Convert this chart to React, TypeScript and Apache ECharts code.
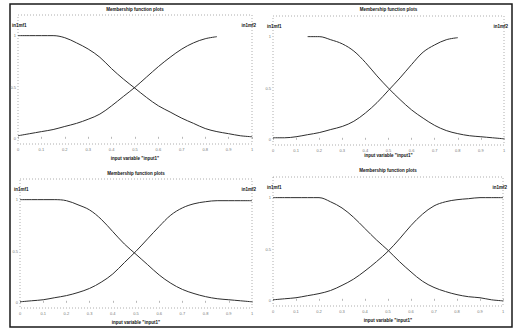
import React, { useEffect, useRef } from "react";
import * as echarts from "echarts";

// ---- data ----
const xs = [0, 0.05, 0.1, 0.15, 0.2, 0.25, 0.3, 0.35, 0.4, 0.45, 0.5, 0.55, 0.6, 0.65, 0.7, 0.75, 0.8, 0.85, 0.9, 0.95, 1];
const xTicks = ["0", "0.1", "0.2", "0.3", "0.4", "0.5", "0.6", "0.7", "0.8", "0.9", "1"];
const yTicks = ["0", "0.5", "1"];

const panelTitles = ["Membership function plots", "Membership function plots", "Membership function plots", "Membership function plots"];
const xLabels = ['input variable "input1"', 'input variable "input1"', 'input variable "input1"', 'input variable "input1"'];
const mf1Names = ["in1mf1", "in1mf1", "in1mf1", "in1mf1"];
const mf2Names = ["in1mf2", "in1mf2", "in1mf2", "in1mf2"];

// top-left
const tlMf1 = [1, 1, 1, 1, 0.98, 0.93, 0.87, 0.79, 0.68, 0.58, 0.49, 0.4, 0.32, 0.26, 0.2, 0.15, 0.1, 0.07, 0.05, 0.03, 0.02];
const tlMf2 = [0.03, 0.05, 0.07, 0.09, 0.12, 0.15, 0.19, 0.24, 0.32, 0.41, 0.5, 0.6, 0.7, 0.79, 0.87, 0.93, 0.97, 0.99];
// top-right
const trMf1 = [null, null, null, 1, 1, 0.97, 0.93, 0.86, 0.75, 0.62, 0.5, 0.39, 0.29, 0.21, 0.14, 0.09, 0.06, 0.04, 0.03, 0.02, 0.01];
const trMf2 = [0.02, 0.02, 0.03, 0.05, 0.07, 0.1, 0.13, 0.18, 0.26, 0.36, 0.48, 0.6, 0.73, 0.85, 0.92, 0.97, 0.99];
// bottom-left
const blMf1 = [1, 1, 1, 1, 0.99, 0.95, 0.9, 0.81, 0.69, 0.57, 0.47, 0.37, 0.27, 0.19, 0.13, 0.09, 0.06, 0.04, 0.03, 0.02, 0.01];
const blMf2 = [0.01, 0.02, 0.03, 0.05, 0.07, 0.1, 0.14, 0.2, 0.28, 0.39, 0.5, 0.62, 0.74, 0.85, 0.92, 0.96, 0.98, 0.99, 0.99, 0.99, 0.99];
// bottom-right
const brMf1 = [1, 1, 1, 1, 1, 0.96, 0.9, 0.81, 0.7, 0.59, 0.49, 0.38, 0.28, 0.19, 0.13, 0.09, 0.06, 0.04, 0.03, 0.01, 0];
const brMf2 = [0.01, 0.02, 0.03, 0.05, 0.07, 0.1, 0.15, 0.21, 0.29, 0.38, 0.48, 0.6, 0.73, 0.84, 0.92, 0.96, 0.98, 0.99, 1, 1, 1];

const mf1s = [tlMf1, trMf1, blMf1, brMf1];
const mf2s = [tlMf2, trMf2, blMf2, brMf2];

// layout
const grids = [
  { left: 18, top: 15, width: 234, height: 129 },
  { left: 273, top: 16, width: 231, height: 129 },
  { left: 20, top: 179, width: 232, height: 129 },
  { left: 273, top: 177, width: 230, height: 129 },
];
const titleY = [9, 9, 173, 170];
const xLabelY = [158, 155, 322, 320];

const FONT = "Liberation Sans, Arial, sans-serif";
const LINE = "#2e2e2e";

export default function App() {
  const ref = useRef<HTMLDivElement>(null);
  useEffect(() => {
    if (!ref.current) return;
    const chart = echarts.init(ref.current, null, { renderer: "svg" });
    const pair = (vals: (number | null)[]) =>
      vals.map((v, i) => [xs[i], v]).filter((p) => p[1] !== null);

    const series: any[] = [];
    const graphic: any[] = [];
    grids.forEach((g, i) => {
      series.push({
        type: "line",
        xAxisIndex: i,
        yAxisIndex: i,
        data: pair(mf1s[i]),
        smooth: 0.35,
        showSymbol: false,
        lineStyle: { color: LINE, width: 1 },
      });
      series.push({
        type: "line",
        xAxisIndex: i,
        yAxisIndex: i,
        data: pair(mf2s[i]),
        smooth: 0.35,
        showSymbol: false,
        lineStyle: { color: LINE, width: 1 },
      });
      // dotted axes box
      graphic.push({
        type: "rect",
        shape: { x: g.left, y: g.top, width: g.width, height: g.height },
        style: { fill: "none", stroke: "#9a9a9a", lineWidth: 0.8, lineDash: [1, 2] },
        silent: true,
      });
      graphic.push({
        type: "text",
        x: g.left + g.width / 2,
        y: titleY[i],
        style: { text: panelTitles[i], font: `bold 4.5px ${FONT}`, fill: "#111", align: "center", verticalAlign: "middle" },
      });
      graphic.push({
        type: "text",
        x: g.left + g.width / 2,
        y: xLabelY[i],
        style: { text: xLabels[i], font: `bold 4.5px ${FONT}`, fill: "#111", align: "center", verticalAlign: "middle" },
      });
      graphic.push({
        type: "text",
        x: g.left - 6,
        y: g.top + 10,
        style: { text: mf1Names[i], font: `bold 4.5px ${FONT}`, fill: "#111", align: "left", verticalAlign: "middle" },
      });
      graphic.push({
        type: "text",
        x: g.left + g.width + 4,
        y: g.top + 10,
        style: { text: mf2Names[i], font: `bold 4.5px ${FONT}`, fill: "#111", align: "right", verticalAlign: "middle" },
      });
    });
    // outer frame
    graphic.push({
      type: "rect",
      shape: { x: 10, y: 4, width: 502, height: 323 },
      style: { fill: "none", stroke: "#1a1a1a", lineWidth: 1.5 },
      silent: true,
    });

    const option: any = {
      animation: false,
      backgroundColor: "#ffffff",
      grid: grids.map((g) => ({ ...g, containLabel: false })),
      xAxis: grids.map((_, i) => ({
        type: "value",
        gridIndex: i,
        min: 0,
        max: 1,
        interval: 0.1,
        axisLine: { show: false },
        axisTick: { show: true, inside: true, length: 2, lineStyle: { color: "#888", width: 0.6 } },
        splitLine: { show: false },
        axisLabel: {
          fontSize: 4,
          color: "#777",
          margin: 3,
          fontFamily: FONT,
          formatter: (v: number) => xTicks[Math.round(v * 10)] ?? "",
        },
      })),
      yAxis: grids.map((_, i) => ({
        type: "value",
        gridIndex: i,
        min: -0.05,
        max: 1.2,
        interval: 0.05,
        axisLine: { show: false },
        axisTick: { show: false },
        splitLine: { show: false },
        axisLabel: {
          fontSize: 4,
          color: "#777",
          margin: 2,
          fontFamily: FONT,
          formatter: (v: number) => {
            const k = Math.round(v * 100);
            if (k === 0) return yTicks[0];
            if (k === 50) return yTicks[1];
            if (k === 100) return yTicks[2];
            return "";
          },
        },
      })),
      series,
      graphic,
    };
    chart.setOption(option);
    return () => chart.dispose();
  }, []);
  return (
    <div
      ref={ref}
      style={{ position: "fixed", left: 0, top: 0, width: 522, height: 328, background: "#fff" }}
    />
  );
}
